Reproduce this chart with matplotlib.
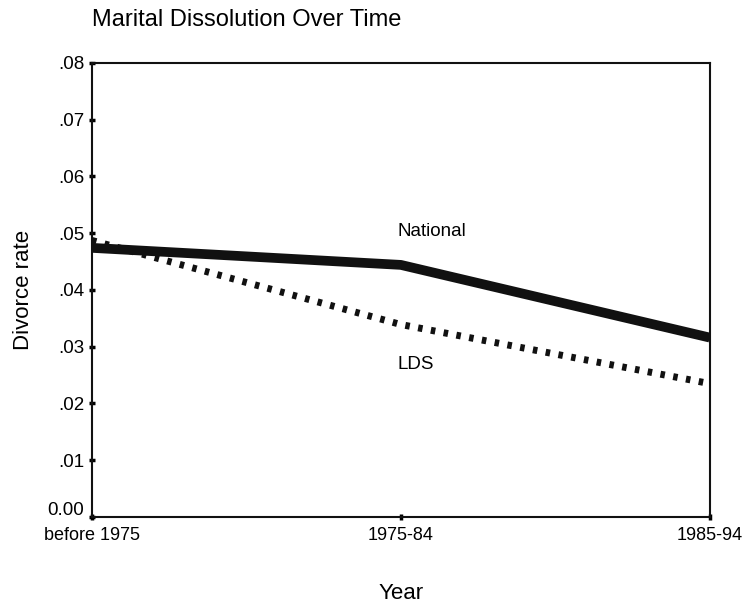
import numpy as np
import matplotlib
matplotlib.use("Agg")
import matplotlib.pyplot as plt
import matplotlib.transforms as mtransforms

plt.rcParams['font.family'] = ['Liberation Sans', 'DejaVu Sans']

# data
periods = ["before 1975", "1975-84", "1985-94"]
national = [0.0474, 0.0444, 0.0316]
lds = [0.0487, 0.0339, 0.0235]
y_ticks = [0.0, 0.01, 0.02, 0.03, 0.04, 0.05, 0.06, 0.07, 0.08]
y_tick_labels = ["0.00", ".01", ".02", ".03", ".04", ".05", ".06", ".07", ".08"]


fig = plt.figure(figsize=(7.51, 6.09), dpi=100)
ax = fig.add_axes([0.1225, 0.151, 0.8225, 0.746])

x = np.arange(len(periods))
ax.plot(x, national, color='#111111', lw=7.0, solid_capstyle='butt', solid_joinstyle='round')
ax.plot(x, lds, color='#111111', lw=5.0, dashes=(0.65, 1.22), dash_capstyle='butt')

# series labels placed next to the lines
ax.text(0.99, 0.0503, "National", fontsize=13.5, va='center', ha='left')
ax.text(0.99, 0.0268, "LDS", fontsize=13.5, va='center', ha='left')

ax.set_xlim(0, 2)
ax.set_ylim(0, 0.08)
ax.set_xticks(x)
ax.set_xticklabels(periods, fontsize=13)
ax.set_yticks(y_ticks)
ax.set_yticklabels(y_tick_labels, fontsize=13.5)
ax.tick_params(direction='inout', length=5, width=2.5)
ax.tick_params(axis='x', pad=5)
ax.tick_params(axis='y', pad=3)

# the zero label sits a little above the axis line in the original
lbl0 = ax.get_yticklabels()[0]
lbl0.set_transform(lbl0.get_transform() +
                   mtransforms.ScaledTranslation(0, 6 / 72, fig.dpi_scale_trans))

for s in ax.spines.values():
    s.set_linewidth(1.5)
    s.set_color('#111111')

ax.set_ylabel("Divorce rate", fontsize=16, labelpad=10)
ax.set_xlabel("Year", fontsize=16, labelpad=28)
fig.text(0.122, 0.967, "Marital Dissolution Over Time", fontsize=17, ha='left', va='center')

plt.savefig('out.png', dpi=100)
